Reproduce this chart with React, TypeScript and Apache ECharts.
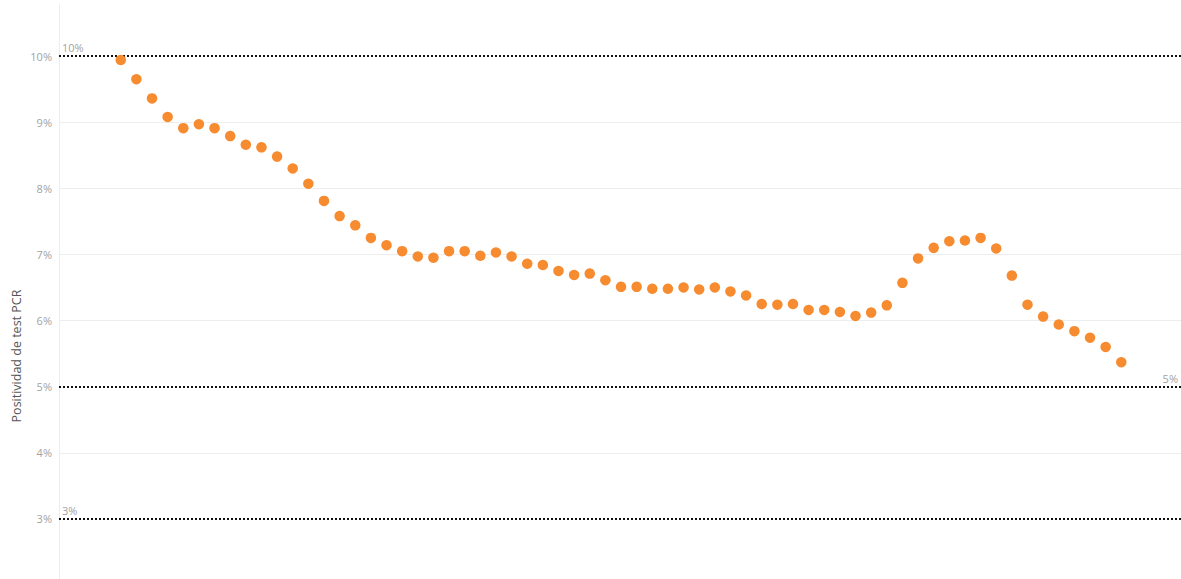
import React, { useEffect, useRef } from "react";
import * as echarts from "echarts";

// Weekly PCR test positivity (%)
const positivity: number[] = [
  9.94, 9.65, 9.36, 9.08, 8.91, 8.97, 8.91, 8.79, 8.66, 8.62,
  8.48, 8.30, 8.07, 7.81, 7.58, 7.44, 7.25, 7.14, 7.05, 6.97,
  6.95, 7.05, 7.05, 6.98, 7.03, 6.97, 6.86, 6.84, 6.75, 6.69,
  6.71, 6.61, 6.51, 6.51, 6.48, 6.48, 6.50, 6.47, 6.50, 6.44,
  6.38, 6.25, 6.24, 6.25, 6.16, 6.16, 6.13, 6.07, 6.12, 6.23,
  6.57, 6.94, 7.10, 7.20, 7.21, 7.25, 7.09, 6.68, 6.24, 6.06,
  5.94, 5.84, 5.74, 5.60, 5.37,
];

// Reference lines (%)
const refLines: { value: number; pos: string }[] = [
  { value: 10, pos: "insideStartTop" },
  { value: 5, pos: "insideEndTop" },
  { value: 3, pos: "insideStartTop" },
];

// Light grid lines (%)
const gridValues: number[] = [4, 6, 7, 8, 9];

const yAxisTitle = "Positividad de test PCR";

export default function App() {
  const ref = useRef<HTMLDivElement>(null);

  useEffect(() => {
    document.body.style.margin = "0";
    if (!ref.current) return;
    const chart = echarts.init(ref.current, undefined, { renderer: "svg" });
    const font = "'Open Sans', 'Noto Sans', sans-serif";
    chart.setOption({
      animation: false,
      backgroundColor: "#ffffff",
      grid: {
        left: 59,
        right: 0,
        top: 5,
        height: 580,
        outerBoundsMode: "none",
        containLabel: false,
      },
      xAxis: {
        type: "value",
        min: -3.95,
        max: 67.82,
        show: false,
      },
      yAxis: {
        type: "value",
        min: 2,
        max: 10.773,
        interval: 1,
        axisLine: { show: true, onZero: false, lineStyle: { color: "#ececec", width: 1 } },
        axisTick: { show: false },
        splitLine: { show: false },
        axisLabel: {
          showMaxLabel: false,
          margin: 7,
          color: "#a3a3a3",
          fontSize: 11,
          fontFamily: font,
          formatter: (v: number) =>
            Math.abs(v - Math.round(v)) < 1e-6 ? `${Math.round(v)}%` : "",
        },
      },
      graphic: [
        {
          type: "text",
          x: 16,
          y: 356,
          rotation: Math.PI / 2,
          style: {
            text: yAxisTitle,
            fill: "#555555",
            fontSize: 12.5,
            fontFamily: font,
            align: "center",
            verticalAlign: "middle",
          },
        },
      ],
      series: [
        {
          type: "line",
          data: [],
          silent: true,
          markLine: {
            silent: true,
            symbol: "none",
            label: { show: false },
            lineStyle: { color: "#ededed", width: 1, type: "solid" },
            data: gridValues.map((v) => ({ yAxis: v })),
          },
        },
        {
          type: "line",
          data: [],
          silent: true,
          markLine: {
            silent: true,
            symbol: "none",
            lineStyle: { color: "#111111", width: 2, type: [2, 2] },
            data: refLines.map((r) => ({
              yAxis: r.value,
              label: {
                show: true,
                position: r.pos,
                formatter: `${r.value}%`,
                color: "#a3a3a3",
                fontSize: 11,
                fontFamily: font,
                distance: [3, 3],
              },
            })),
          },
        },
        {
          type: "scatter",
          symbol: "circle",
          symbolSize: 10.5,
          itemStyle: { color: "#F68B30", opacity: 1 },
          data: positivity.map((v, i) => [i, v]),
          z: 5,
        },
      ],
    });
    return () => chart.dispose();
  }, []);

  return <div ref={ref} style={{ width: 1181, height: 579 }} />;
}
